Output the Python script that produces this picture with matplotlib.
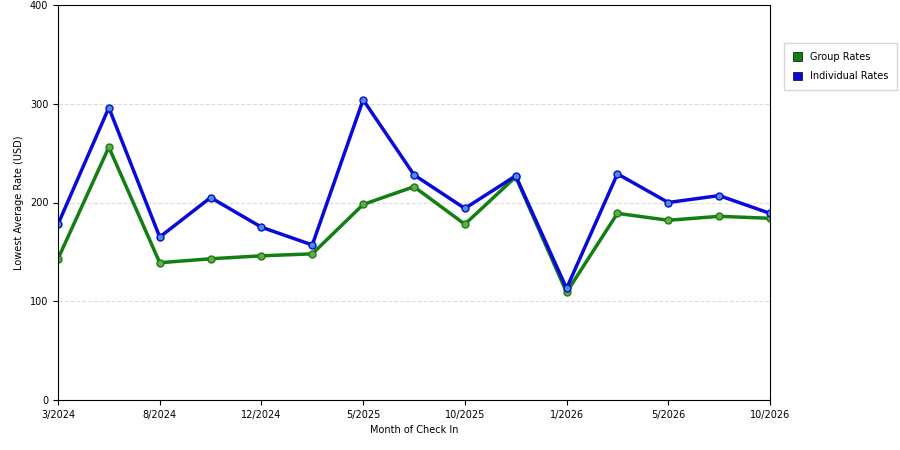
import matplotlib.pyplot as plt

months = ["3/2024", "", "8/2024", "", "12/2024", "", "5/2025", "", "10/2025", "",
          "1/2026", "", "5/2026", "", "10/2026"]
group_rates = [143, 256, 139, 143, 146, 148, 198, 216, 178, 226, 109, 189, 182, 186, 184]
individual_rates = [178, 296, 165, 205, 175, 157, 304, 228, 194, 227, 113, 229, 200, 207, 189]

fig = plt.figure(figsize=(9, 4.5), dpi=100)
ax = fig.add_axes([58 / 900, 50 / 450, 712 / 900, 395 / 450])

x = list(range(len(months)))
ax.plot(x, group_rates, color="#137f13", lw=2.5, marker="o", ms=5,
        mfc="#6aa84f", mec="#137f13", label="Group Rates")
ax.plot(x, individual_rates, color="#0a0ad8", lw=2.5, marker="o", ms=5,
        mfc="#4a90d9", mec="#0a0ad8", label="Individual Rates")

ax.set_xlim(0, len(months) - 1)
ax.set_ylim(0, 400)
ax.set_yticks([0, 100, 200, 300, 400])
labeled = [i for i, m in enumerate(months) if m]
ax.set_xticks(labeled)
ax.set_xticklabels([months[i] for i in labeled], fontsize=7)
ax.tick_params(axis="y", labelsize=7)
ax.yaxis.grid(True, ls="--", color="#dddddd")
ax.set_xlabel("Month of Check In", fontsize=7)
ax.set_ylabel("Lowest Average Rate (USD)", fontsize=7)

handles = [plt.Rectangle((0, 0), 1, 1, fc="#137f13", ec="black", lw=0.5),
           plt.Rectangle((0, 0), 1, 1, fc="#0a0ad8", ec="black", lw=0.5)]
fig.legend(handles, ["Group Rates", "Individual Rates"], loc="upper left",
           bbox_to_anchor=(779 / 900, 1 - 38 / 450), fontsize=7,
           fancybox=False, edgecolor="#cccccc", handlelength=1, handleheight=1,
           labelspacing=1.0, borderpad=0.9)

fig.savefig("out.png")
